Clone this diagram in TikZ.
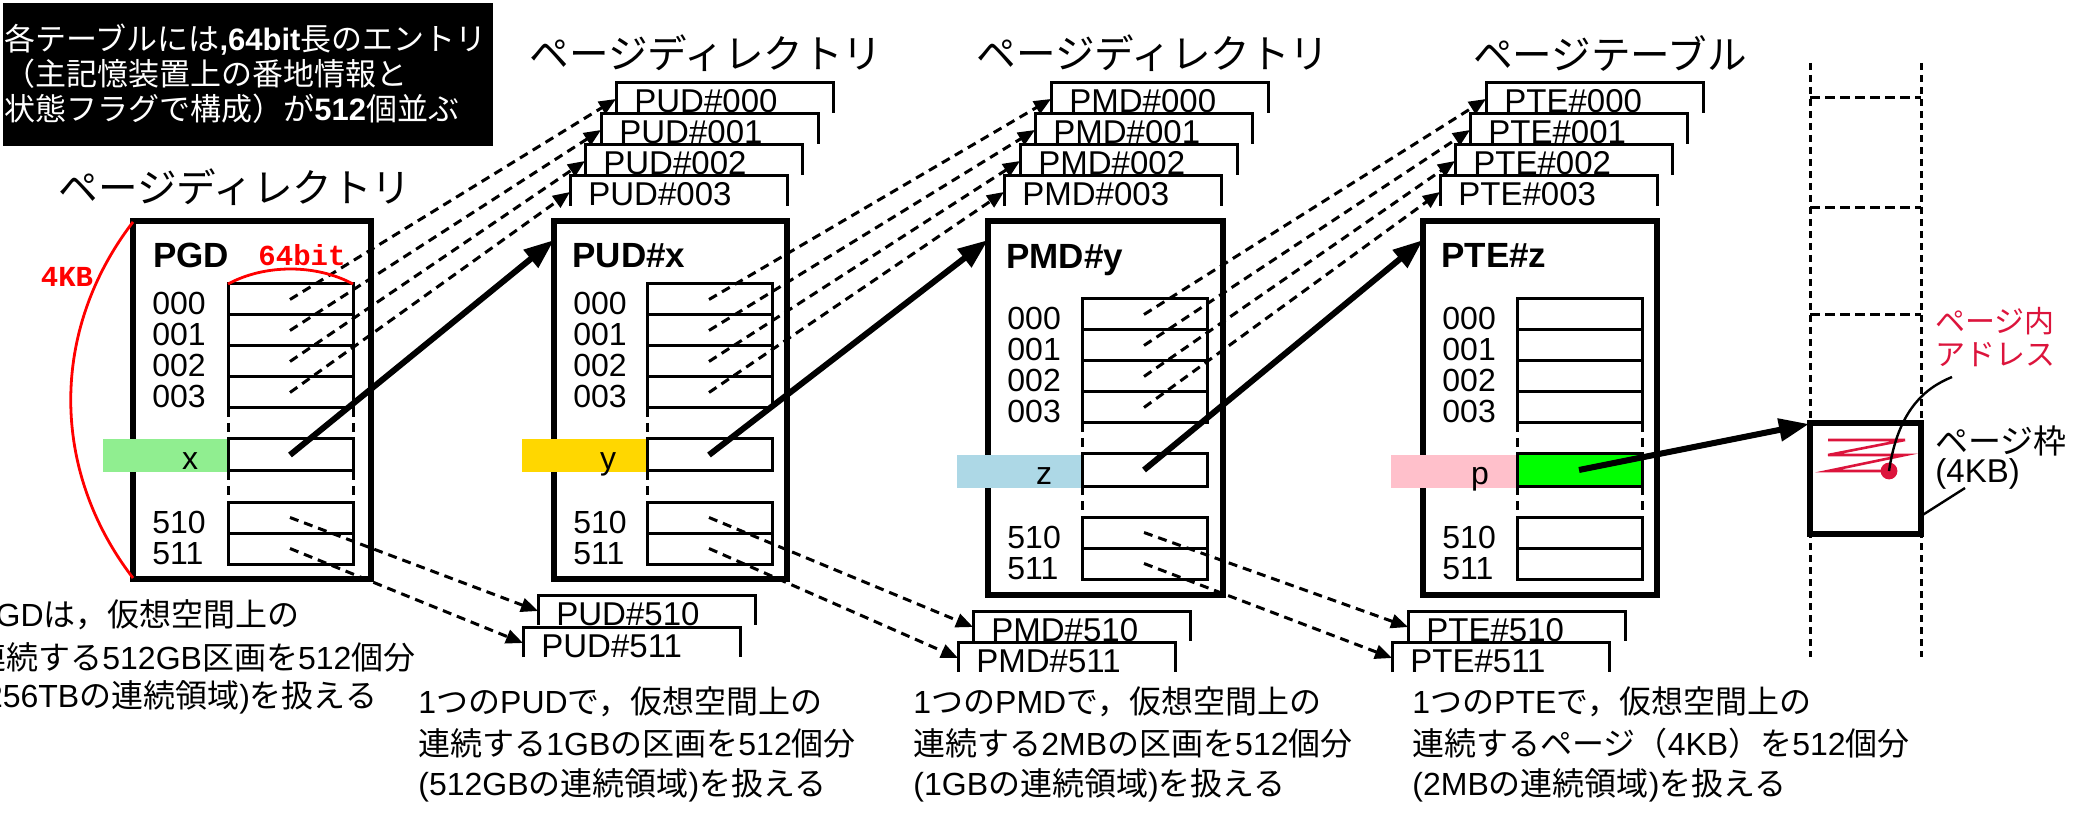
\documentclass[tikz,border=0pt]{standalone}
\usepackage{fontspec}
\setmainfont{Liberation Sans}
\newfontfamily\jp{Noto Sans CJK JP}
\newfontfamily\cour{Liberation Mono}
\usetikzlibrary{arrows.meta}
\newcommand\J[1]{{\jp #1}}
\definecolor{bgreen}{HTML}{90EE90}
\definecolor{bgold}{HTML}{FFD700}
\definecolor{bblue}{HTML}{ADD8E6}
\definecolor{bpink}{HTML}{FFC0CB}
\definecolor{bright}{HTML}{00FF00}
\definecolor{crim}{HTML}{DC143C}
\tikzset{
  tbox/.style={line width=3pt},
  eline/.style={line width=1.5pt},
  dline/.style={line width=1.5pt, dash pattern=on 4.5pt off 3pt},
  darrow/.style={dline, -{Triangle[length=8.5pt,width=7pt]}},
  tarrow/.style={line width=3pt, -{Triangle[length=15pt,width=11pt]}},
  numlbl/.style={inner sep=0pt, font=\fontsize{16}{19}\selectfont},
  stk/.style={inner sep=0pt, font=\fontsize{16.5}{19}\selectfont},
  boldlbl/.style={inner sep=0pt, font=\fontsize{17.5}{20}\selectfont\bfseries},
  ttl/.style={inner sep=0pt, font=\fontsize{19.8}{22}\selectfont},
  lowtxt/.style={inner sep=0pt, anchor=west, font=\fontsize{16}{19}\selectfont},
  redline/.style={line width=1.4pt, red},
  redmono/.style={inner sep=0pt, text=red, font=\fontsize{14.5}{16}\selectfont\cour\bfseries},
  colline/.style={line width=1.5pt, dash pattern=on 3.5pt off 2.5pt},
  hline/.style={line width=1.5pt, dash pattern=on 5pt off 2.5pt},
  vdash/.style={line width=1.5pt, dash pattern=on 4.5pt off 3pt},
}
% table: #1 left, #2 right, #3 bottom, #4 entry left, #5 first row top, #6 name
\newcommand\Tbl[6]{%
  \draw[tbox,fill=white] (#1,221) rectangle (#2,#3);
  \foreach \k/\t in {0/000,1/001,2/002,3/003}{
    \draw[eline,fill=white] (#4,{#5+31*\k}) rectangle ({#4+125},{#5+31*\k+31});
    \node[numlbl,anchor=base west] (#6-\t) at ({#1+19},{#5+31*\k+31}) {\t};
    \coordinate (#6-s\t) at ({#4+62},{#5+31*\k+15.5});
  }
  \foreach \k/\t in {0/510,1/511}{
    \draw[eline,fill=white] (#4,{#5+218+31*\k}) rectangle ({#4+125},{#5+249+31*\k});
    \node[numlbl,anchor=base west] (#6-\t) at ({#1+19},{#5+249+31*\k}) {\t};
    \coordinate (#6-s\t) at ({#4+62},{#5+233.5+31*\k});
  }
  \coordinate (#6-sx) at ({#4+62},{#5+171});
  \coordinate (#6-in) at (#1,240);
}
% stacked table header: #1 name, #2 left, #3 top, #4 text
\newcommand\Stk[4]{%
  \fill[white] (#2,#3) rectangle ({#2+217},{#3+30});
  \draw[eline] (#2,{#3+30}) -- (#2,#3) -- ({#2+217},#3) -- ({#2+217},{#3+30});
  \node[stk,anchor=base west] (#1) at ({#2+18},{#3+30}) {#4};
  \coordinate (#1-in) at (#2,{#3+16});
}
\begin{document}
\begin{tikzpicture}[x=0.5pt,y=-0.5pt]
\useasboundingbox (0,0) rectangle (2075,817);

% note box
\fill[black] (3,3) rectangle (493,146);
\node[inner sep=0pt, anchor=west, text=white, font=\fontsize{15.5}{18}\selectfont] (n1) at (4,40) {\J{各テーブルには}\textbf{,64bit}\J{長のエントリ}};
\node[inner sep=0pt, anchor=west, text=white, font=\fontsize{15.5}{18}\selectfont] (n2) at (4,74) {\J{（主記憶装置上の番地情報と}};
\node[inner sep=0pt, anchor=west, text=white, font=\fontsize{15.5}{18}\selectfont] (n3) at (4,109) {\J{状態フラグで構成）が}\textbf{512}\J{個並ぶ}};

% titles
\node[ttl] (t0) at (235,187) {\J{ページディレクトリ}};
\node[ttl] (t1) at (706,53) {\J{ページディレクトリ}};
\node[ttl] (t2) at (1153,53) {\J{ページディレクトリ}};
\node[ttl] (t3) at (1610,53) {\J{ページテーブル}};

% memory column
\draw[colline] (1810,63) -- (1810,657);
\draw[colline] (1921,63) -- (1921,657);
\foreach \yy in {98,208,315} \draw[hline] (1810,\yy) -- (1921,\yy);
\draw[tbox,fill=white] (1810,423) rectangle (1921,534);
\coordinate (frame-in) at (1809,424);

% tables
\Tbl{133}{371}{579}{228}{284}{pgd}
\Tbl{554}{787}{579}{647}{284}{pud}
\Tbl{988}{1223}{595}{1082}{299}{pmd}
\Tbl{1423}{1657}{595}{1517}{299}{pte}

\node[boldlbl,anchor=base west] (pgd-name) at (153,268) {PGD};
\node[boldlbl,anchor=base west] (pud-name) at (572,268) {PUD\#x};
\node[boldlbl,anchor=base west] (pmd-name) at (1006,269) {PMD\#y};
\node[boldlbl,anchor=base west] (pte-name) at (1441,268) {PTE\#z};

% highlighted index bands
\fill[bgreen] (103,439) rectangle (228,472);
\fill[bgold] (522,439) rectangle (647,472);
\fill[bblue] (957,455) rectangle (1082,488);
\fill[bpink] (1391,455) rectangle (1517,488);
\draw[eline,fill=white] (228,439) rectangle (353,471);
\draw[eline,fill=white] (647,439) rectangle (772,471);
\draw[eline,fill=white] (1082,454) rectangle (1207,486);
\draw[eline,fill=bright] (1517,454) rectangle (1642,486);
\node[numlbl,anchor=base] (ix) at (190,470) {x};
\node[numlbl,anchor=base] (iy) at (608,470) {y};
\node[numlbl,anchor=base] (iz) at (1044,485) {z};
\node[numlbl,anchor=base] (ip) at (1480,485) {p};

% dashed sides between entry groups
\draw[vdash] (228,408) -- (228,439) (228,471) -- (228,502) (353,408) -- (353,439) (353,471) -- (353,502);
\draw[vdash] (647,408) -- (647,439) (647,471) -- (647,502);
\draw[vdash] (1082,423) -- (1082,454) (1082,486) -- (1082,517);
\draw[vdash] (1517,423) -- (1517,454) (1517,486) -- (1517,517) (1642,423) -- (1642,454) (1642,486) -- (1642,517);

% stacks
\Stk{pud000}{616}{83}{PUD\#000}
\Stk{pud001}{601}{114}{PUD\#001}
\Stk{pud002}{585}{145}{PUD\#002}
\Stk{pud003}{570}{176}{PUD\#003}
\Stk{pud510}{538}{595}{PUD\#510}
\Stk{pud511}{523}{627}{PUD\#511}
\Stk{pmd000}{1051}{83}{PMD\#000}
\Stk{pmd001}{1035}{114}{PMD\#001}
\Stk{pmd002}{1020}{145}{PMD\#002}
\Stk{pmd003}{1004}{176}{PMD\#003}
\Stk{pmd510}{973}{611}{PMD\#510}
\Stk{pmd511}{958}{642}{PMD\#511}
\Stk{pte000}{1486}{83}{PTE\#000}
\Stk{pte001}{1470}{114}{PTE\#001}
\Stk{pte002}{1455}{145}{PTE\#002}
\Stk{pte003}{1440}{176}{PTE\#003}
\Stk{pte510}{1408}{611}{PTE\#510}
\Stk{pte511}{1392}{642}{PTE\#511}

% dashed pointers
\foreach \t in {000,001,002,003,510,511}{
  \draw[darrow] (pgd-s\t) -- (pud\t-in);
  \draw[darrow] (pud-s\t) -- (pmd\t-in);
  \draw[darrow] (pmd-s\t) -- (pte\t-in);
}

% thick pointers
\draw[tarrow] (pgd-sx) -- (pud-in);
\draw[tarrow] (pud-sx) -- (pmd-in);
\draw[tarrow] (pmd-sx) -- (pte-in);
\draw[tarrow] (pte-sx) -- (frame-in);

% red size marks
\draw[redline] (133,222) .. controls (50,330) and (50,470) .. (133,578);
\node[redmono] (kb) at (67,277) {4KB};
\draw[redline] (228,284) .. controls (265,264) and (316,264) .. (353,284);
\node[redmono] (bit) at (302,255) {64bit};

% page frame details
\draw[crim, line width=1.3pt] (1828,440) -- (1905,440) -- (1828,455) -- (1905,455) -- (1828,471) -- (1889,471);
\fill[crim] (1889,471) circle[radius=4.2pt];
\coordinate (dot) at (1889,471);
\node[inner sep=0pt, anchor=west, text=crim, font=\fontsize{15}{18}\selectfont] (pa1) at (1935,321) {\J{ページ内}};
\node[inner sep=0pt, anchor=west, text=crim, font=\fontsize{15}{18}\selectfont] (pa2) at (1935,355) {\J{アドレス}};
\coordinate (pa-end) at (1952,377);
\draw[line width=1.2pt] (dot) .. controls (1898,410) and (1925,388) .. (pa-end);
\node[inner sep=0pt, anchor=west, font=\fontsize{16.5}{19}\selectfont] (pf1) at (1935,441) {\J{ページ枠}};
\node[inner sep=0pt, anchor=west, font=\fontsize{16.5}{19}\selectfont] (pf2) at (1935,474) {(4KB)};
\coordinate (pf-a) at (1921,516);
\coordinate (pf-b) at (1965,488);
\draw[line width=1.2pt] (pf-a) -- (pf-b);

% explanations
\node[lowtxt] (g1) at (-26,615) {PGD\J{は，仮想空間上の}};
\node[lowtxt] (g2) at (-26,657) {\J{連続する}512GB\J{区画を}512\J{個分}};
\node[lowtxt] (g3) at (-26,697) {(256TB\J{の連続領域})\J{を扱える}};
\node[lowtxt] (u1) at (418,702) {1\J{つの}PUD\J{で，仮想空間上の}};
\node[lowtxt] (u2) at (418,743) {\J{連続する}1GB\J{の区画を}512\J{個分}};
\node[lowtxt] (u3) at (418,785) {(512GB\J{の連続領域})\J{を扱える}};
\node[lowtxt] (m1) at (913,702) {1\J{つの}PMD\J{で，仮想空間上の}};
\node[lowtxt] (m2) at (913,743) {\J{連続する}2MB\J{の区画を}512\J{個分}};
\node[lowtxt] (m3) at (913,785) {(1GB\J{の連続領域})\J{を扱える}};
\node[lowtxt] (e1) at (1412,702) {1\J{つの}PTE\J{で，仮想空間上の}};
\node[lowtxt] (e2) at (1412,743) {\J{連続するページ（}4KB\J{）を}512\J{個分}};
\node[lowtxt] (e3) at (1412,785) {(2MB\J{の連続領域})\J{を扱える}};
\end{tikzpicture}
\end{document}
